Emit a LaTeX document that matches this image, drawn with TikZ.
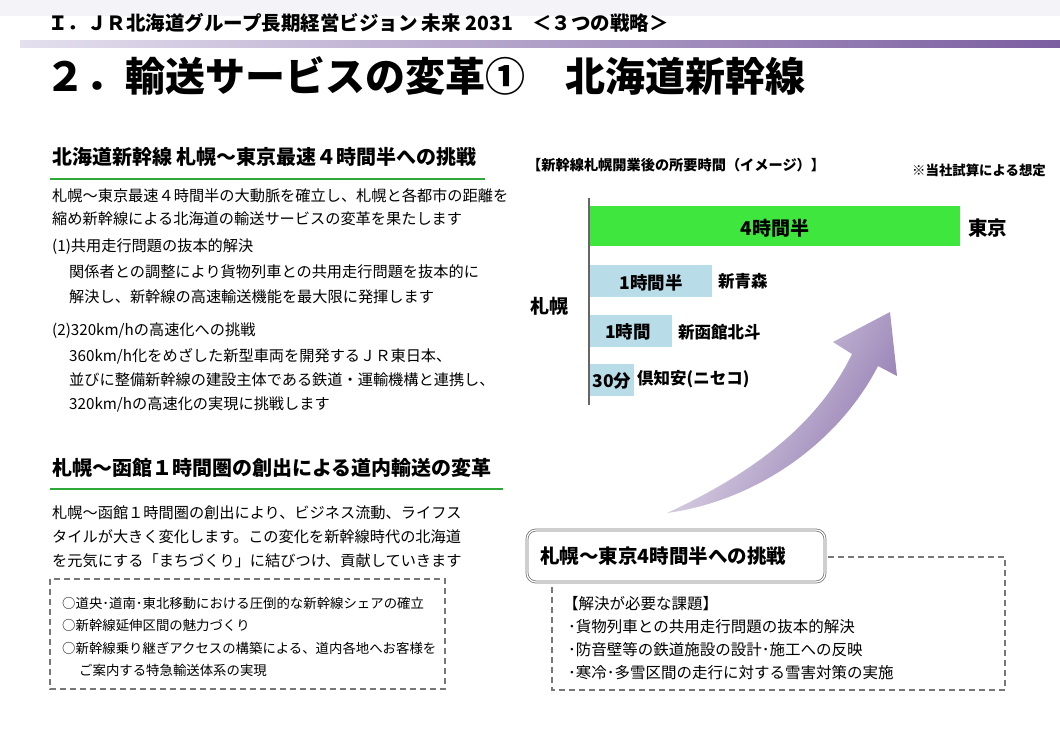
\documentclass[tikz,border=0pt]{standalone}
\usepackage{fontspec}
\setmainfont{Noto Sans CJK JP}
\usetikzlibrary{positioning}
\definecolor{barpurple}{HTML}{7B5EA0}
\definecolor{lavender}{HTML}{E4E0EE}
\definecolor{headgreen}{HTML}{2EA836}
\definecolor{bargreen}{HTML}{3EE63E}
\definecolor{barblue}{HTML}{B8DCE8}
\definecolor{boxgray}{HTML}{777777}
\tikzset{
  body/.style={anchor=west,inner sep=0pt,font=\fontsize{15.2}{18}\selectfont},
  head/.style={anchor=west,inner sep=0pt,font=\fontsize{20}{23}\selectfont\bfseries},
  small/.style={anchor=west,inner sep=0pt,font=\fontsize{15.5}{18}\selectfont},
  listtext/.style={anchor=west,inner sep=0pt,font=\fontsize{13.4}{16}\selectfont},
  barlabel/.style={inner sep=0pt,font=\fontsize{17.5}{20}\selectfont\bfseries},
  dest/.style={anchor=west,inner sep=0pt,font=\fontsize{16.5}{19}\selectfont\bfseries},
  greenline/.style={headgreen,line width=2.5pt},
  dashbox/.style={boxgray,dash pattern=on 6pt off 4pt,line width=1.2pt}
}
\begin{document}
\begin{tikzpicture}[x=1pt,y=-1pt]
\useasboundingbox (0,0) rectangle (1060,745);
\fill[white] (0,0) rectangle (1060,745);
\fill[lavender!40] (0,0) rectangle (1060,16);
% header
\shade[left color=lavender,right color=barpurple] (20,40) rectangle (1060,47);
\node[anchor=west,inner sep=0pt,font=\fontsize{19.5}{22}\selectfont\bfseries] (hdr) at (48,23) {Ｉ．ＪＲ北海道グループ長期経営ビジョン 未来 2031　＜３つの戦略＞};
\node[anchor=west,inner sep=0pt,font=\fontsize{40}{44}\selectfont\bfseries] (title) at (45,76) {２．輸送サービスの変革①　北海道新幹線};
% left column, section 1
\node[head] (h1) at (52,157) {北海道新幹線 札幌～東京最速４時間半への挑戦};
\draw[greenline] (50,179) -- (485,179);
\node[body] (t1) at (52,196) {札幌～東京最速４時間半の大動脈を確立し、札幌と各都市の距離を};
\node[body] (t2) at (52,219) {縮め新幹線による北海道の輸送サービスの変革を果たします};
\node[body] (t3) at (52,247) {(1)共用走行問題の抜本的解決};
\node[body] (t4) at (69,272) {関係者との調整により貨物列車との共用走行問題を抜本的に};
\node[body] (t5) at (69,297) {解決し、新幹線の高速輸送機能を最大限に発揮します};
\node[body] (t6) at (52,331) {(2)320km/hの高速化への挑戦};
\node[body] (t7) at (69,356) {360km/h化をめざした新型車両を開発するＪＲ東日本、};
\node[body] (t8) at (69,380) {並びに整備新幹線の建設主体である鉄道・運輸機構と連携し、};
\node[body] (t9) at (69,404) {320km/hの高速化の実現に挑戦します};
% left column, section 2
\node[head] (h2) at (52,468) {札幌～函館１時間圏の創出による道内輸送の変革};
\draw[greenline] (50,489) -- (503,489);
\node[body] (u1) at (52,513) {札幌～函館１時間圏の創出により、ビジネス流動、ライフス};
\node[body] (u2) at (52,537) {タイルが大きく変化します。この変化を新幹線時代の北海道};
\node[body] (u3) at (52,561) {を元気にする「まちづくり」に結びつけ、貢献していきます};
\draw[dashbox] (50,579) rectangle (445,689);
\node[listtext] (v1) at (62,603) {○道央･道南･東北移動における圧倒的な新幹線シェアの確立};
\node[listtext] (v2) at (62,625) {○新幹線延伸区間の魅力づくり};
\node[listtext] (v3) at (62,648) {○新幹線乗り継ぎアクセスの構築による、道内各地へお客様を};
\node[listtext] (v4) at (79,670) {ご案内する特急輸送体系の実現};
% chart
\node[anchor=west,inner sep=0pt,font=\fontsize{14.2}{17}\selectfont\bfseries] (ctitle) at (527,165) {【新幹線札幌開業後の所要時間（イメージ）】};
\node[anchor=west,inner sep=0pt,font=\fontsize{13.4}{16}\selectfont\bfseries] (cnote) at (912,170) {※当社試算による想定};
\draw[gray!80!black,line width=1.2pt] (589,198) -- (589,405);
\fill[bargreen] (590,206) rectangle (960,246);
\node[barlabel,font=\fontsize{19}{22}\selectfont\bfseries] (b1) at (775,228) {4時間半};
\node[dest,font=\fontsize{19.5}{22}\selectfont\bfseries] (tokyo) at (968,228) {東京};
\fill[barblue] (590,265) rectangle (712,297);
\node[barlabel] (b2) at (651,283) {1時間半};
\node[dest] (aomori) at (718,281) {新青森};
\fill[barblue] (590,315) rectangle (672,347);
\node[barlabel] (b3) at (628,332) {1時間};
\node[dest] (hakodate) at (678,332) {新函館北斗};
\fill[barblue] (590,364) rectangle (634,396);
\node[barlabel] (b4) at (612,381) {30分};
\node[dest] (kutchan) at (637,379) {倶知安(ニセコ)};
\node[anchor=west,inner sep=0pt,font=\fontsize{19}{22}\selectfont\bfseries] (sapporo) at (530,306) {札幌};
% rising arrow
\shade[left color=barpurple!12,right color=barpurple!85,shading angle=60]
  (667,513) .. controls (760,470) and (820,420) .. (852,354)
  -- (833,342) -- (890,312) -- (897,376) -- (878,366)
  .. controls (840,440) and (760,500) .. (667,513) -- cycle;
% challenge box
\draw[dashbox] (552,557) rectangle (1005,690);
\draw[boxgray,double=white,double distance=1.2pt,line width=0.8pt,rounded corners=9pt,fill=white] (527,530) rectangle (825,582);
\node[anchor=west,inner sep=0pt,font=\fontsize{19.5}{22}\selectfont\bfseries] (chal) at (540,556) {札幌～東京4時間半への挑戦};
\node[small] (w1) at (563,604) {【解決が必要な課題】};
\node[small] (w2) at (568,627) {･貨物列車との共用走行問題の抜本的解決};
\node[small] (w3) at (568,650) {･防音壁等の鉄道施設の設計･施工への反映};
\node[small] (w4) at (568,673) {･寒冷･多雪区間の走行に対する雪害対策の実施};
\end{tikzpicture}
\end{document}
